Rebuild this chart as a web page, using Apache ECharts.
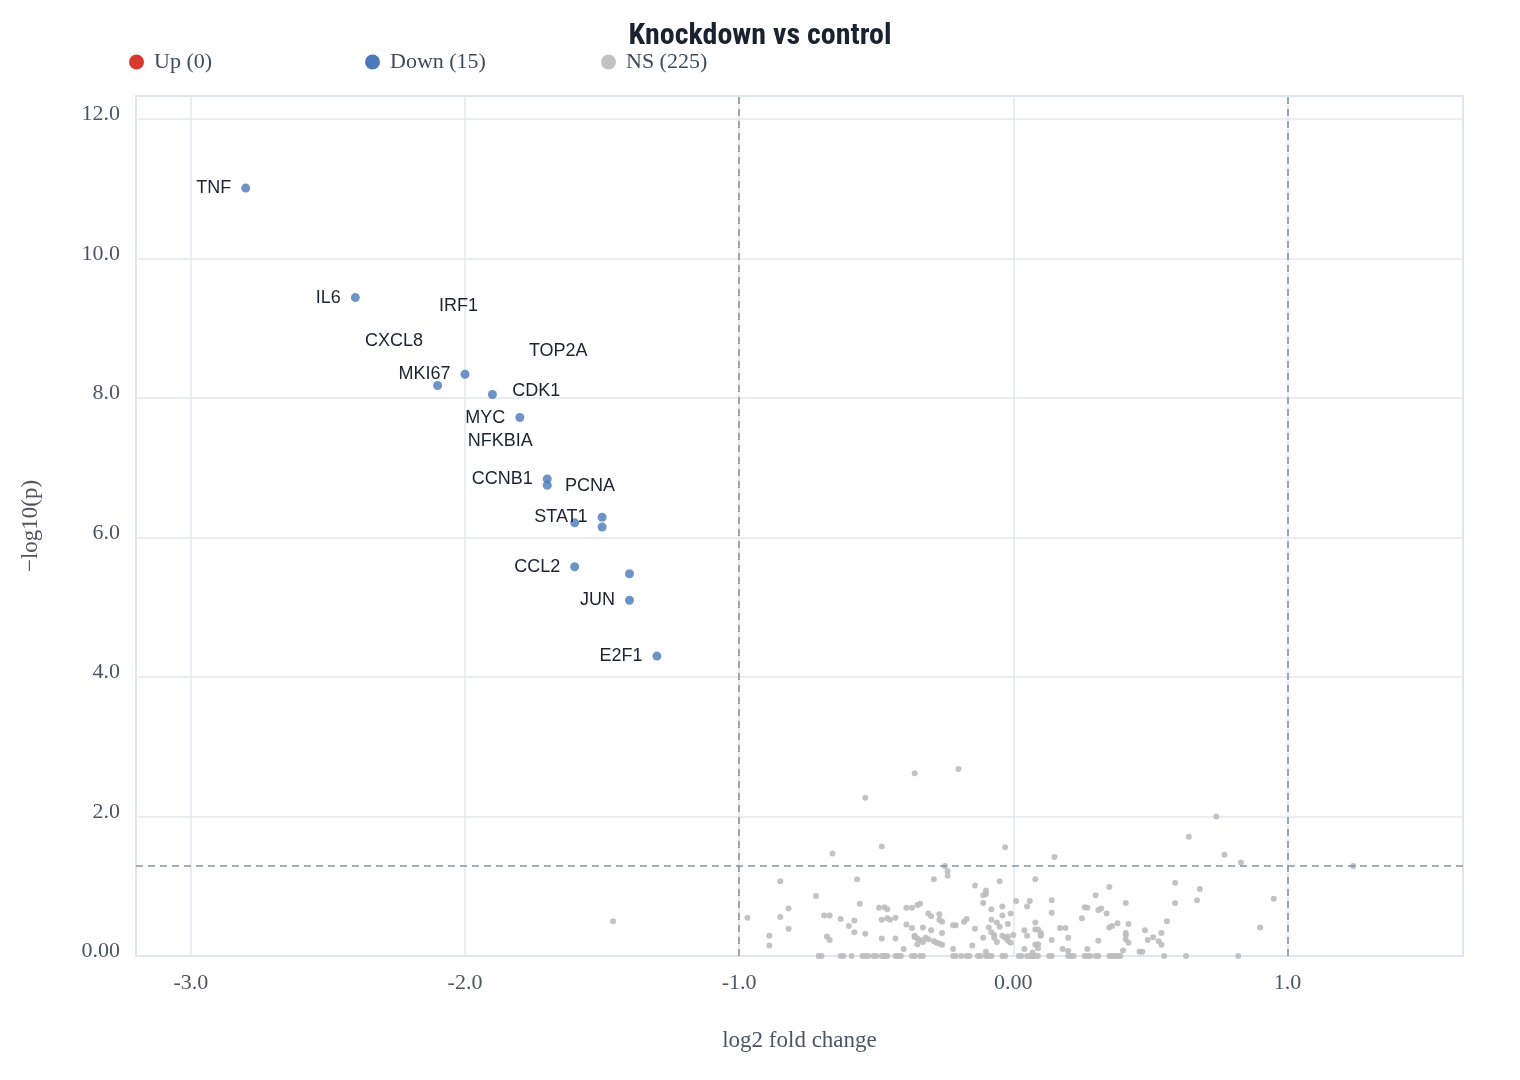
<!DOCTYPE html>
<html><head><meta charset="utf-8">
<script src="https://cdn.jsdelivr.net/npm/echarts@6/dist/echarts.min.js"></script>
<style>html,body{margin:0;padding:0;background:#fff}#chart{width:1520px;height:1080px}</style>
</head><body><div id="chart"></div>
<script>
// ---- data ----
const seriesNames = ['Up', 'Down', 'NS'];
const upPoints = [];
const downGenes = ['TNF','IL6','MKI67','CXCL8','IRF1','MYC','CCNB1','NFKBIA','STAT1','CDK1','TOP2A','CCL2','PCNA','JUN','E2F1'];
const downLog2FC = [-2.8,-2.4,-2.0,-2.1,-1.9,-1.8,-1.7,-1.7,-1.5,-1.6,-1.5,-1.6,-1.4,-1.4,-1.3];
const downNegLog10P = [11.01,9.44,8.34,8.18,8.05,7.72,6.84,6.75,6.29,6.21,6.15,5.58,5.48,5.10,4.30];
const nsPoints = [
[-0.54,2.27],[-0.48,1.57],[-0.66,1.47],[-0.85,1.07],[-0.57,1.10],[-0.72,0.86],[-0.56,0.75],[-0.97,0.55],[-0.82,0.68],[-0.85,0.56],
[-0.82,0.39],[-0.89,0.29],[-0.89,0.15],[-0.69,0.58],[-0.67,0.58],[-0.63,0.53],[-0.58,0.51],[-0.60,0.43],[-0.58,0.34],[-0.54,0.32],
[-0.68,0.28],[-0.67,0.23],[-0.49,0.69],[-0.47,0.70],[-0.46,0.67],[-0.48,0.52],[-0.46,0.54],[-0.48,0.25],[-0.71,0],[-0.63,0],
[-0.59,0],[-0.55,0],[-0.54,0],[-0.51,0],[-0.48,0],[-0.47,0],
[-0.36,2.62],[-0.20,2.68],[-0.03,1.56],[-0.25,1.29],[-0.24,1.22],[-0.24,1.15],[-0.29,1.10],[-0.14,1.01],[-0.05,1.07],[0.08,1.10],
[-0.10,0.94],[-0.11,0.87],[-0.10,0.89],[-0.11,0.76],[0.01,0.79],[0.06,0.79],[0.05,0.71],[-0.34,0.75],[-0.35,0.73],[-0.37,0.69],
[-0.39,0.69],[-0.31,0.61],[-0.30,0.57],[-0.27,0.60],[-0.27,0.52],[-0.26,0.49],[-0.08,0.67],[-0.04,0.71],[-0.01,0.61],[-0.04,0.58],
[-0.08,0.52],[-0.06,0.48],[-0.02,0.46],[0.08,0.48],[-0.43,0.55],[-0.45,0.52],[-0.39,0.45],[-0.37,0.40],[-0.33,0.41],[-0.30,0.37],
[-0.26,0.33],[-0.22,0.44],[-0.21,0.44],[-0.18,0.49],[-0.17,0.53],[-0.14,0.39],[-0.09,0.41],[-0.08,0.34],[-0.07,0.30],[-0.07,0.26],
[-0.05,0.42],[-0.04,0.29],[-0.03,0.26],[-0.02,0.22],[-0.01,0.19],[0.00,0.30],[0.04,0.37],[0.05,0.29],[0.08,0.38],[-0.43,0.25],
[-0.36,0.29],[-0.35,0.25],[-0.34,0.23],[-0.35,0.17],[-0.32,0.26],[-0.31,0.24],[-0.29,0.21],[-0.28,0.19],[-0.26,0.16],[-0.11,0.26],
[-0.15,0.15],[-0.22,0.10],[-0.40,0.10],[-0.10,0.06],[0.04,0.10],[0.08,0.16],[0.07,0.05],
[-0.47,0],[-0.43,0],[-0.41,0],[-0.36,0],[-0.33,0],[-0.22,0],[-0.19,0],[-0.16,0],[-0.13,0],[-0.10,0],[-0.08,0],[-0.04,0],[0.03,0],[0.05,0],[0.07,0],
[0.64,1.71],[0.15,1.42],[0.59,1.05],[0.35,0.99],[0.30,0.87],[0.41,0.76],[0.59,0.76],[0.14,0.80],[0.14,0.62],[0.26,0.70],
[0.27,0.69],[0.31,0.66],[0.32,0.68],[0.34,0.61],[0.25,0.54],[0.09,0.38],[0.10,0.33],[0.10,0.29],[0.17,0.40],[0.19,0.40],
[0.20,0.26],[0.14,0.23],[0.35,0.41],[0.36,0.43],[0.38,0.47],[0.42,0.46],[0.41,0.33],[0.41,0.24],[0.42,0.19],[0.31,0.22],
[0.48,0.37],[0.49,0.23],[0.51,0.27],[0.53,0.21],[0.54,0.16],[0.54,0.33],[0.56,0.50],[0.18,0.10],[0.20,0.07],[0.27,0.10],
[0.09,0.11],[0.09,0.17],[0.40,0.08],[0.46,0.06],[0.47,0.06],
[0.07,0],[0.09,0],[0.14,0],[0.20,0],[0.22,0],[0.26,0],[0.28,0],[0.31,0],[0.35,0],[0.37,0],[0.39,0],[0.55,0],[0.63,0],
[0.74,2.00],[0.77,1.45],[0.83,1.34],[1.24,1.29],[0.68,0.96],[0.67,0.80],[0.95,0.82],[0.90,0.41],[0.82,0],[-1.46,0.50],
[-0.70,0],[-0.62,0],[-0.53,0],[-0.50,0],[-0.46,0],[-0.42,0],[-0.37,0],[-0.34,0],[-0.21,0],[-0.17,0],[-0.12,0],
[-0.09,0],[-0.03,0],[0.02,0],[0.06,0],[0.08,0],[0.13,0],[0.21,0],[0.27,0],[0.30,0],[0.36,0],[0.38,0],
[-0.27,0.18],[-0.33,0.20],[-0.06,0.20],[-0.02,0.28],[0.10,0.30],[0.41,0.30],[-0.36,0.27]
];
const thresholdLog2FC = [-1, 1];
const thresholdNegLog10P = 1.301;
// label lift (number of steps moved upward to avoid overlaps)
const labelLiftSteps = {CXCL8:1, IRF1:2, NFKBIA:1, CDK1:3, TOP2A:4, PCNA:2};

// ---- styles ----
const serif = "'Liberation Serif','Times New Roman',serif";
const sans = "'Liberation Sans',Arial,Helvetica,sans-serif";
const axisTextColor = '#4b5565';
const fmt = v => (v === 0 ? '0.00' : v.toFixed(1));
const counts = {Up: upPoints.length, Down: downGenes.length, NS: nsPoints.length};

const chart = echarts.init(document.getElementById('chart'), null, {renderer: 'canvas'});
chart.setOption({
  animation: false,
  backgroundColor: '#ffffff',
  title: {
    text: 'Knockdown vs control',
    left: 'center', top: 16,
    textStyle: {fontFamily: "'Liberation Sans Narrow','Roboto Condensed',Inter,sans-serif", fontWeight: 'bold', fontSize: 30, color: '#1a2232'}
  },
  legend: {
    left: 124, top: 46,
    icon: 'circle', itemWidth: 25, itemHeight: 15, itemGap: 21,
    data: [
      {name: 'Up', itemStyle: {color: '#d63a2e', opacity: 1}},
      {name: 'Down', itemStyle: {color: '#4a78b8', opacity: 1}},
      {name: 'NS', itemStyle: {color: '#c2c2c2', opacity: 1}}
    ],
    formatter: n => '{t|' + n + ' (' + counts[n] + ')}',
    textStyle: {
      fontFamily: serif, fontSize: 22, color: '#3f4a5a',
      rich: {t: {width: 190, lineHeight: 26, fontFamily: serif, fontSize: 22, color: '#3f4a5a'}}
    }
  },
  grid: {left: 136, right: 57, top: 96, bottom: 124, show: true, borderColor: '#cbd3de', borderWidth: 1.5},
  xAxis: {
    type: 'value', min: -3.2, max: 1.64, splitNumber: 5,
    axisLine: {show: false}, axisTick: {show: false},
    splitLine: {lineStyle: {color: '#e3e8ef', width: 1.5}},
    axisLabel: {showMinLabel: false, showMaxLabel: false, margin: 16, fontFamily: serif, fontSize: 22, color: axisTextColor, formatter: fmt},
    name: 'log2 fold change', nameLocation: 'middle', nameGap: 73,
    nameTextStyle: {fontFamily: serif, fontSize: 23, color: axisTextColor}
  },
  yAxis: {
    type: 'value', min: 0, max: 12.33, interval: 2,
    axisLine: {show: false}, axisTick: {show: false},
    splitLine: {lineStyle: {color: '#e3e8ef', width: 1.5}},
    axisLabel: {showMaxLabel: false, margin: 16, fontFamily: serif, fontSize: 22, color: axisTextColor, formatter: fmt, verticalAlign: 'bottom', lineHeight: 9},
    name: '\u2212log10(p)', nameLocation: 'middle', nameGap: 94, nameRotate: 90,
    nameTextStyle: {fontFamily: serif, fontSize: 23, color: axisTextColor}
  },
  series: [
    {
      name: 'Up', type: 'scatter', data: upPoints, symbolSize: 9,
      itemStyle: {color: '#d63a2e', opacity: 0.8}
    },
    {
      name: 'NS', type: 'scatter', symbolSize: 6, z: 2,
      data: nsPoints,
      itemStyle: {color: '#bdbdbd', opacity: 0.9},
      markLine: {
        silent: true, symbol: ['none', 'none'], animation: false,
        label: {show: false},
        lineStyle: {type: [7, 5], color: '#8792a6', width: 1.6, opacity: 1},
        data: [{xAxis: thresholdLog2FC[0]}, {xAxis: thresholdLog2FC[1]}, {yAxis: thresholdNegLog10P}]
      }
    },
    {
      name: 'Down', type: 'scatter', symbolSize: 9, z: 3,
      data: downGenes.map((g, i) => ({
        name: g,
        value: [downLog2FC[i], downNegLog10P[i]],
        label: {offset: [0, -44 * (labelLiftSteps[g] || 0)]}
      })),
      itemStyle: {color: '#4a78b8', opacity: 0.8},
      label: {show: true, position: 'left', distance: 10, formatter: '{b}', fontFamily: sans, fontSize: 18, color: '#1c2230', opacity: 1}
    }
  ]
});
</script>
</body></html>
